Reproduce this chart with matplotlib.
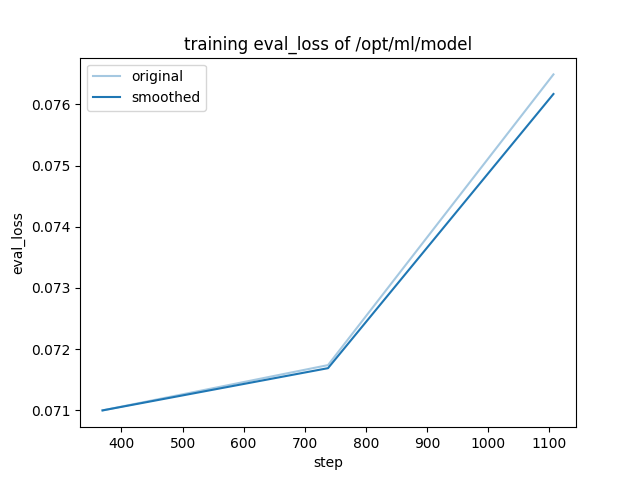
import matplotlib
matplotlib.use("Agg")
import matplotlib.pyplot as plt

# eval_loss per step
steps = [369, 738, 1107]
original = [0.07100, 0.07174, 0.07649]
smoothed = [0.07100, 0.07169, 0.07617]

fig = plt.figure(figsize=(6.4, 4.8), dpi=100)
plt.plot(steps, original, color="#1f77b4", alpha=0.4, label="original")
plt.plot(steps, smoothed, color="#1f77b4", label="smoothed")
plt.title("training eval_loss of /opt/ml/model")
plt.xlabel("step")
plt.ylabel("eval_loss")
plt.legend()
plt.savefig("out.png", dpi=100)
